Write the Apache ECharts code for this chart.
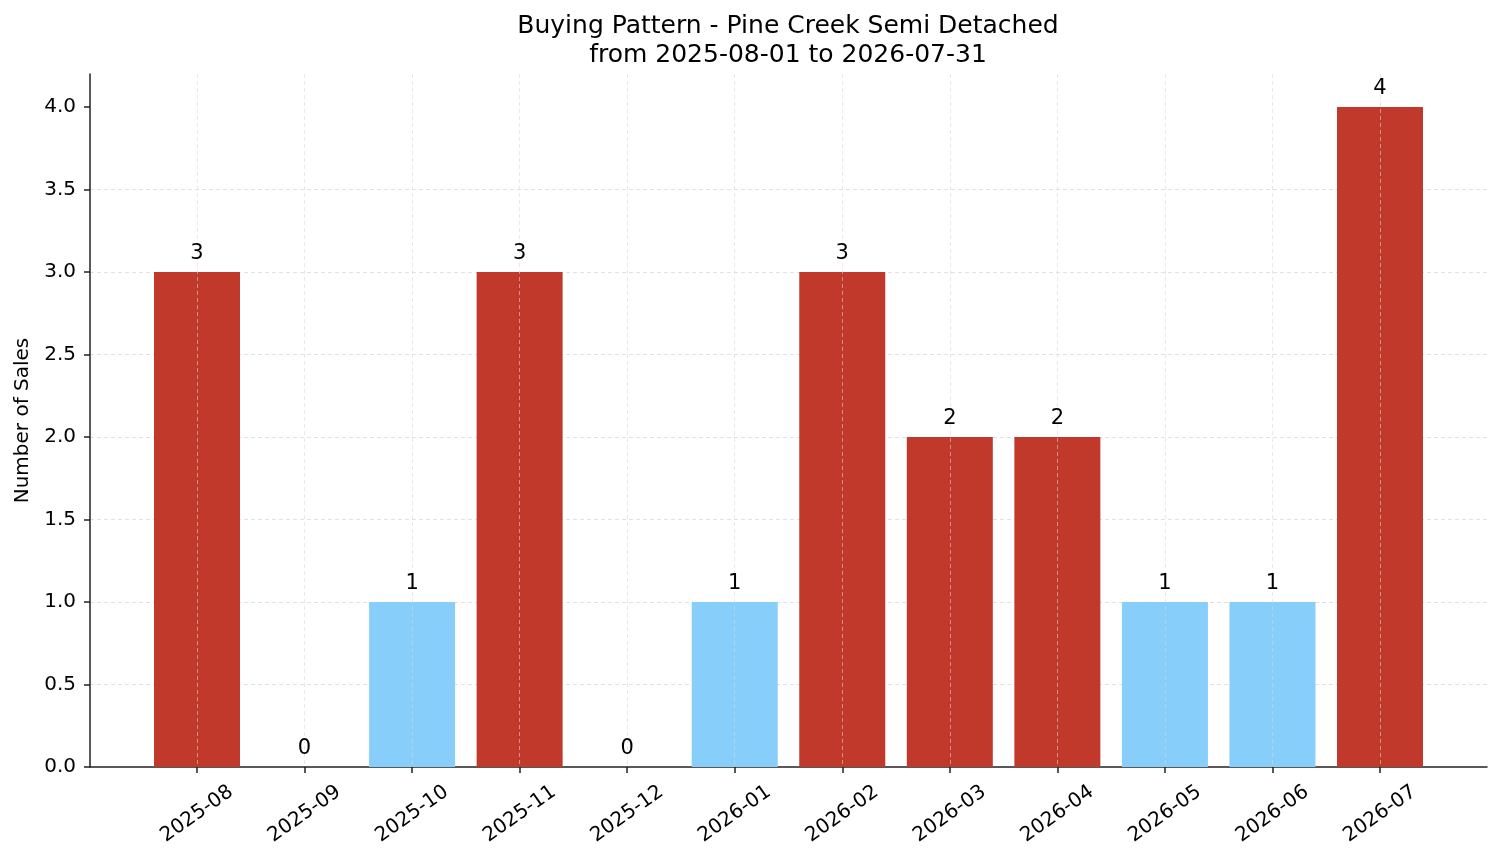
<!DOCTYPE html>
<html>
<head>
<meta charset="utf-8">
<script src="https://cdn.jsdelivr.net/npm/echarts@6/dist/echarts.min.js"></script>
<style>
  html, body { margin: 0; padding: 0; background: #fff; }
  #main { width: 1501px; height: 863px; }
</style>
</head>
<body>
<div id="main"></div>
<script>
var months = ['2025-08', '2025-09', '2025-10', '2025-11', '2025-12', '2026-01',
              '2026-02', '2026-03', '2026-04', '2026-05', '2026-06', '2026-07'];
var sales = [3, 0, 1, 3, 0, 1, 3, 2, 2, 1, 1, 4];
var yTicks = [0, 0.5, 1, 1.5, 2, 2.5, 3, 3.5, 4];

var myChart = echarts.init(document.getElementById('main'));

// 高于平均值的月份用红色
var mean = sales.reduce(function (a, b) { return a + b; }, 0) / sales.length;
var barData = sales.map(function (v) {
    return {
        value: v,
        itemStyle: { color: v > mean ? '#c0392b' : '#87cefa' }
    };
});

var font = 'DejaVu Sans';

var option = {
    animation: false,
    textStyle: { fontFamily: font },
    title: {
        text: 'Buying Pattern - Pine Creek Semi Detached\nfrom 2025-08-01 to 2026-07-31',
        left: 783,
        top: 7,
        textAlign: 'center',
        textStyle: { fontFamily: font, fontSize: 25, fontWeight: 'normal', color: '#000', lineHeight: 29 }
    },
    grid: [
        { left: 90, right: 14, top: 74, bottom: 96, outerBoundsMode: 'none', containLabel: false },
        { left: 197, right: 121, top: 74, bottom: 96, outerBoundsMode: 'none', containLabel: false }
    ],
    xAxis: [{
        gridIndex: 0,
        type: 'value',
        min: 0,
        max: 1,
        axisLine: { show: true, lineStyle: { color: '#222', width: 1.5 } },
        axisTick: { show: false },
        axisLabel: { show: false },
        splitLine: { show: false }
    }, {
        gridIndex: 1,
        type: 'category',
        data: months,
        boundaryGap: false,
        z: 3,
        axisLine: { show: false },
        axisTick: { show: true, length: 6, lineStyle: { color: '#222', width: 1.5 } },
        axisLabel: {
            rotate: 35,
            align: 'center',
            verticalAlign: 'middle',
            margin: 47,
            fontSize: 20,
            color: '#000',
            interval: 0
        },
        splitLine: { show: true, lineStyle: { color: 'rgba(215,215,215,0.7)', type: [4, 3], width: 0.8 } }
    }],
    yAxis: [{
        gridIndex: 0,
        type: 'value',
        min: 0,
        max: 4.2,
        interval: 0.5,
        name: 'Number of Sales',
        nameLocation: 'middle',
        nameGap: 56,
        nameTextStyle: { fontFamily: font, fontSize: 20, color: '#000' },
        axisLine: { show: true, lineStyle: { color: '#222', width: 1.5 } },
        axisTick: { show: true, length: 6, customValues: yTicks, lineStyle: { color: '#222', width: 1.5 } },
        axisLabel: {
            customValues: yTicks,
            margin: 14,
            fontSize: 20,
            color: '#000',
            formatter: function (v) { return v.toFixed(1); }
        },
        splitLine: {
            show: true,
            showMaxLine: false,
            showMinLine: false,
            lineStyle: { color: '#d9d9d9', type: [4, 3], width: 0.8 }
        }
    }, {
        gridIndex: 1,
        type: 'value',
        min: 0,
        max: 4.2,
        show: false
    }],
    series: [{
        type: 'bar',
        xAxisIndex: 1,
        yAxisIndex: 1,
        barWidth: 86,
        data: barData
    }, {
        // 数值标签放在网格线上面
        type: 'bar',
        xAxisIndex: 1,
        yAxisIndex: 1,
        barWidth: 86,
        barGap: '-100%',
        z: 5,
        silent: true,
        itemStyle: { color: 'rgba(0,0,0,0)' },
        data: sales,
        label: {
            show: true,
            position: 'top',
            distance: 8,
            fontSize: 21,
            color: '#000',
            fontFamily: font
        }
    }]
};

myChart.setOption(option);
</script>
</body>
</html>
